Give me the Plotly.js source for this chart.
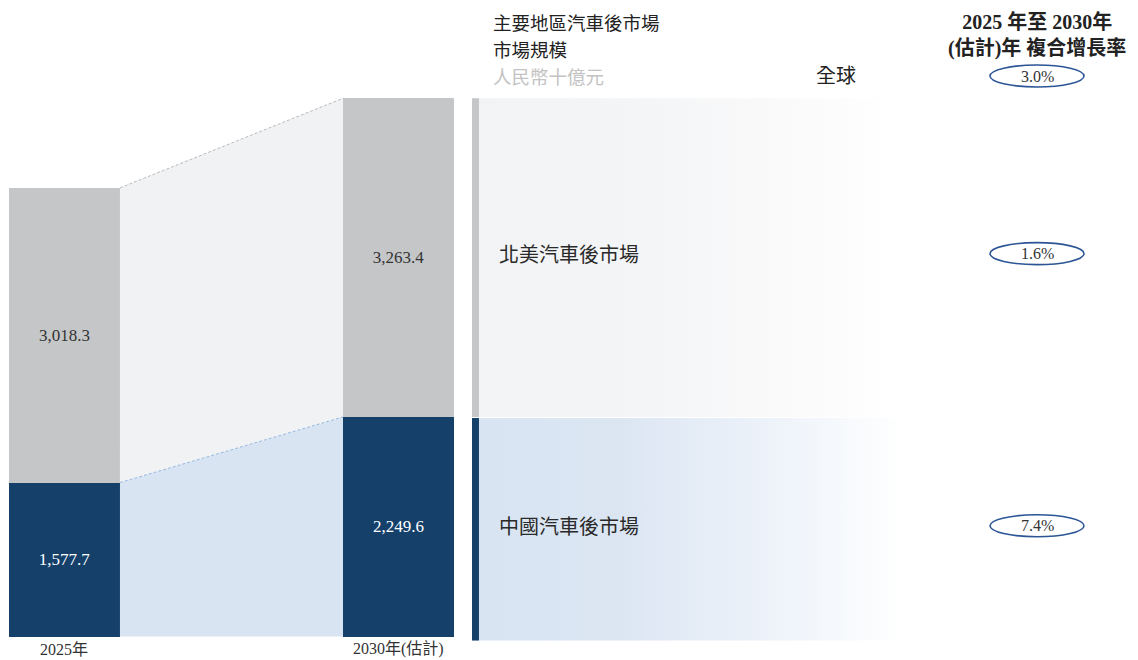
<!DOCTYPE html>
<html>
<head>
<meta charset="utf-8">
<script src="https://cdn.plot.ly/plotly-3.0.1.min.js"></script>
<style>html,body{margin:0;padding:0;background:#fff;}#chart{width:1138px;height:660px;}</style>
</head>
<body>
<div id="chart"></div>
<script>
// ---- data ----
const categories = ['2025年', '2030年(估計)'];
const northAmerica = [3018.3, 3263.4];
const china = [1577.7, 2249.6];
const segmentNames = ['北美汽車後市場', '中國汽車後市場'];
const globalLabel = '全球';
const cagrGlobal = '3.0%';
const cagrNorthAmerica = '1.6%';
const cagrChina = '7.4%';
const titleLines = ['主要地區汽車後市場', '市場規模'];
const unitLabel = '人民幣十億元';
const cagrTitleLines = ['2025 年至 2030年', '(估計)年 複合增長率'];

// ---- styling ----
const GRAY = '#c5c6c8', NAVY = '#15406a';
const GRAY_AREA = '#f1f2f4', BLUE_AREA = '#d9e4f2';
const SERIF = '"Liberation Serif", "Times New Roman", "Noto Sans CJK TC", serif';
const SANS = '"Noto Sans CJK TC", "Noto Sans", sans-serif';
const BW = 0.3323;                       // bar width in x units
const xs = categories.map((c, i) => i);
const totals = china.map((v, i) => v + northAmerica[i]);
const fmt = v => v.toLocaleString('en-US', {minimumFractionDigits: 1, maximumFractionDigits: 1});

const xL = xs[0] + BW / 2, xR = xs[1] - BW / 2;
const last = xs.length - 1;

// panel geometry (x units)
const panelX0 = 1.2201, stripeX1 = 1.241, grayPanelX1 = 2.48, bluePanelX1 = 2.52;
const panelBottom = -41;

const traces = [
  // connecting areas
  {x: [xL, xR, xR, xL], y: [0, 0, china[1], china[0]], type: 'scatter', mode: 'none',
   fill: 'toself', fillcolor: BLUE_AREA, hoverinfo: 'skip'},
  {x: [xL, xR, xR, xL], y: [china[0], china[1], totals[1], totals[0]], type: 'scatter', mode: 'none',
   fill: 'toself', fillcolor: GRAY_AREA, hoverinfo: 'skip'},
  {x: [xL, xR], y: [china[0], china[1]], type: 'scatter', mode: 'lines',
   line: {color: '#93b8e2', width: 1, dash: '3px,2px'}, hoverinfo: 'skip'},
  {x: [xL, xR], y: [totals[0], totals[1]], type: 'scatter', mode: 'lines',
   line: {color: '#b9babd', width: 1, dash: '3px,2px'}, hoverinfo: 'skip'},
  // right-side gradient panels
  {x: [panelX0, grayPanelX1, grayPanelX1, panelX0], y: [china[last], china[last], totals[last], totals[last]],
   type: 'scatter', mode: 'none', fill: 'toself', hoverinfo: 'skip',
   fillgradient: {type: 'horizontal', colorscale: [[0, '#f2f3f5'], [0.4, '#f4f5f6'], [0.75, '#fafafb'], [1, '#ffffff']]}},
  {x: [panelX0, bluePanelX1, bluePanelX1, panelX0], y: [panelBottom, panelBottom, china[last] - 10, china[last] - 10],
   type: 'scatter', mode: 'none', fill: 'toself', hoverinfo: 'skip',
   fillgradient: {type: 'horizontal', colorscale: [[0, '#d8e4f2'], [0.35, '#dce6f3'], [0.65, '#ebf1f9'], [1, '#ffffff']]}},
  {x: [panelX0, stripeX1, stripeX1, panelX0], y: [china[last], china[last], totals[last], totals[last]],
   type: 'scatter', mode: 'none', fill: 'toself', fillcolor: GRAY, hoverinfo: 'skip'},
  {x: [panelX0, stripeX1, stripeX1, panelX0], y: [panelBottom, panelBottom, china[last] - 10, china[last] - 10],
   type: 'scatter', mode: 'none', fill: 'toself', fillcolor: NAVY, hoverinfo: 'skip'},
  // bars
  {type: 'bar', x: xs, y: china, width: BW, marker: {color: NAVY, line: {width: 0}},
   text: china.map(fmt), textposition: 'inside', insidetextanchor: 'middle', constraintext: 'none',
   textfont: {family: SERIF, size: 17, color: '#ffffff'}, hoverinfo: 'skip', name: segmentNames[1]},
  {type: 'bar', x: xs, y: northAmerica, width: BW, marker: {color: GRAY, line: {width: 0}},
   text: northAmerica.map(fmt), textposition: 'inside', insidetextanchor: 'middle', constraintext: 'none',
   textfont: {family: SERIF, size: 17, color: '#333333'}, hoverinfo: 'skip', name: segmentNames[0]}
];

const naMid = china[last] + northAmerica[last] / 2;
const cnMid = china[last] / 2;
const cagrX = 1037 / 1138;
const pY = pix => 1 - pix / 641;

const hdr = (txt, pix, color) => ({xref: 'paper', yref: 'paper', x: 492 / 1138, y: pY(pix), xanchor: 'left',
  yanchor: 'middle', showarrow: false, borderpad: 0, text: txt, font: {family: SANS, size: 18.5, color: color}});

const annotations = [
  hdr(titleLines[0], 22, '#222222'),
  hdr(titleLines[1], 49, '#222222'),
  hdr(unitLabel, 76, '#c3c3c3'),
  {xref: 'paper', yref: 'paper', x: 836 / 1138, y: pY(75), xanchor: 'center', yanchor: 'middle', showarrow: false,
   text: globalLabel, font: {family: SANS, size: 20, color: '#222222'}},
  {xref: 'paper', yref: 'paper', x: cagrX, y: pY(35), xanchor: 'center', yanchor: 'middle', showarrow: false,
   text: '<b>' + cagrTitleLines.join('<br>') + '</b>', font: {family: SERIF, size: 20, color: '#222222'}},
  {xref: 'x', yref: 'y', x: 1.295, y: naMid, yshift: 4, xanchor: 'left', yanchor: 'middle', showarrow: false,
   text: segmentNames[0], font: {family: SANS, size: 20, color: '#2a2a2a'}},
  {xref: 'x', yref: 'y', x: 1.295, y: cnMid, yshift: 1, xanchor: 'left', yanchor: 'middle', showarrow: false,
   text: segmentNames[1], font: {family: SANS, size: 20, color: '#2a2a2a'}},
  {xref: 'paper', yref: 'paper', x: cagrX, y: pY(76), xanchor: 'center', yanchor: 'middle', showarrow: false,
   text: cagrGlobal, font: {family: SERIF, size: 16, color: '#333333'}},
  {xref: 'paper', yref: 'y', x: cagrX, y: naMid, yshift: 4, xanchor: 'center', yanchor: 'middle', showarrow: false,
   text: cagrNorthAmerica, font: {family: SERIF, size: 16, color: '#333333'}},
  {xref: 'paper', yref: 'y', x: cagrX, y: cnMid, yshift: 1, xanchor: 'center', yanchor: 'middle', showarrow: false,
   text: cagrChina, font: {family: SERIF, size: 16, color: '#333333'}}
].concat(categories.map((c, i) => ({
  xref: 'x', yref: 'paper', x: xs[i], y: pY(659), xanchor: 'center', yanchor: 'bottom', showarrow: false,
  borderpad: 0, text: c, font: {family: SERIF, size: 16, color: '#333333'}
})));

const ell = (yref, yanchor) => ({type: 'circle', xref: 'paper', yref: yref, xsizemode: 'pixel', ysizemode: 'pixel',
  xanchor: cagrX, x0: -47, x1: 47, yanchor: yanchor, y0: -11, y1: 11,
  line: {color: '#2c5596', width: 1.6}, fillcolor: 'rgba(0,0,0,0)', layer: 'above'});

const shapes = [
  ell('paper', pY(76)),
  Object.assign(ell('y', naMid), {y0: -7, y1: 15}),
  Object.assign(ell('y', cnMid), {y0: -10, y1: 12})
];

const layout = {
  width: 1138, height: 660,
  margin: {l: 0, r: 0, t: 0, b: 19, pad: 0},
  paper_bgcolor: '#ffffff', plot_bgcolor: '#ffffff',
  showlegend: false, barmode: 'stack', bargap: 0,
  xaxis: {range: [-0.193, 3.214], showticklabels: false, showgrid: false, zeroline: false,
          showline: false, ticks: '', fixedrange: true},
  yaxis: {range: [-45, 6520], visible: false, showgrid: false, zeroline: false, fixedrange: true},
  annotations: annotations,
  shapes: shapes
};

Plotly.newPlot('chart', traces, layout, {displayModeBar: false, staticPlot: true});
</script>
</body>
</html>
